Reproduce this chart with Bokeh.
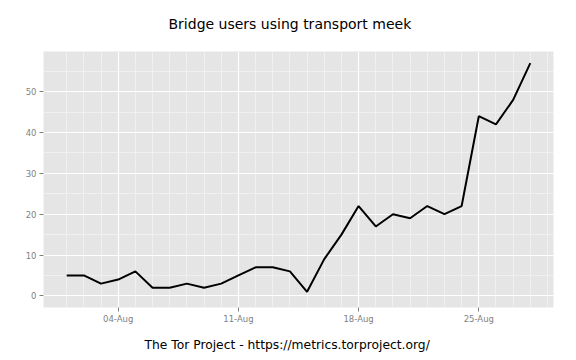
from datetime import datetime
from bokeh.plotting import figure
from bokeh.models import (Range1d, FixedTicker, DatetimeTickFormatter, Title,
                          ColumnDataSource)
from bokeh.embed import file_html
from bokeh.resources import INLINE

# ---- data ----
dates = [datetime(2014, 8, d) for d in range(1, 29)]
users = [5, 5, 3, 4, 6, 2, 2, 3, 2, 3, 5, 7, 7, 6, 1, 9, 15, 22, 17, 20,
         19, 22, 20, 22, 44, 42, 48, 57]
x_tick_dates = [datetime(2014, 8, 4), datetime(2014, 8, 11),
                datetime(2014, 8, 18), datetime(2014, 8, 25)]
x_minor_dates = [datetime(2014, 8, d) for d in range(1, 30)]
y_ticks = [0, 10, 20, 30, 40, 50]
y_minor = [5, 15, 25, 35, 45, 55]
title_text = "Bridge users using transport meek"
xlabel_text = "The Tor Project - https://metrics.torproject.org/"

def ms(d):
    return (d - datetime(1970, 1, 1)).total_seconds() * 1000.0

span = ms(dates[-1]) - ms(dates[0])
x0 = ms(dates[0]) - 0.05 * span
x1 = ms(dates[-1]) + 0.05 * span
ymin, ymax = 0, max(users)
yspan = ymax - ymin

W, H = 568, 360
p = figure(width=W, height=H, x_axis_type="datetime", title=None,
           output_backend="svg", toolbar_location=None,
           x_range=Range1d(x0, x1),
           y_range=Range1d(ymin - 0.05 * yspan, ymax + 0.05 * yspan),
           min_border_left=43, min_border_right=15,
           min_border_top=51, min_border_bottom=53)

p.background_fill_color = "#E5E5E5"
p.border_fill_color = "white"
p.outline_line_color = None

src = ColumnDataSource(dict(date=dates, users=users))
p.line("date", "users", source=src, line_color="black", line_width=2)

# axes
p.xaxis.ticker = FixedTicker(ticks=[ms(d) for d in x_tick_dates],
                             minor_ticks=[ms(d) for d in x_minor_dates])
fmt = "%d-%b"
p.xaxis.formatter = DatetimeTickFormatter(
    microseconds=fmt, milliseconds=fmt, seconds=fmt, minsec=fmt, minutes=fmt,
    hourmin=fmt, hours=fmt, days=fmt, months=fmt, years=fmt)
p.yaxis.ticker = FixedTicker(ticks=y_ticks, minor_ticks=y_minor)

for ax in (p.xaxis, p.yaxis):
    ax.axis_line_color = None
    ax.major_tick_line_color = "#7F7F7F"
    ax.major_tick_in = 0
    ax.major_tick_out = 4
    ax.minor_tick_line_color = None
    ax.major_label_text_color = "#7F7F7F"
    ax.major_label_text_font = "DejaVu Sans"
    ax.major_label_text_font_size = "8.5px"
p.xaxis.major_label_standoff = 2
p.yaxis.major_label_standoff = 3

for g in (p.xgrid, p.ygrid):
    g.grid_line_color = "white"
    g.grid_line_width = 1.2
    g.minor_grid_line_color = "#F2F2F2"
    g.minor_grid_line_width = 0.8

# white spacer (nearest the plot area) pushes the real title up
p.add_layout(Title(text=".", text_color="white", text_font_size="10px",
                   standoff=8), "above")

# real title, centred on the whole figure
p.add_layout(Title(text=title_text, align="left", offset=125, standoff=4,
                   text_font="DejaVu Sans", text_font_size="14px",
                   text_font_style="normal", text_color="black"), "above")

p.add_layout(Title(text=xlabel_text, align="left", offset=101, standoff=18,
                   text_font="DejaVu Sans", text_font_size="12.3px",
                   text_font_style="normal", text_color="black"), "below")

open("out.html", "w").write(file_html(p, INLINE))
